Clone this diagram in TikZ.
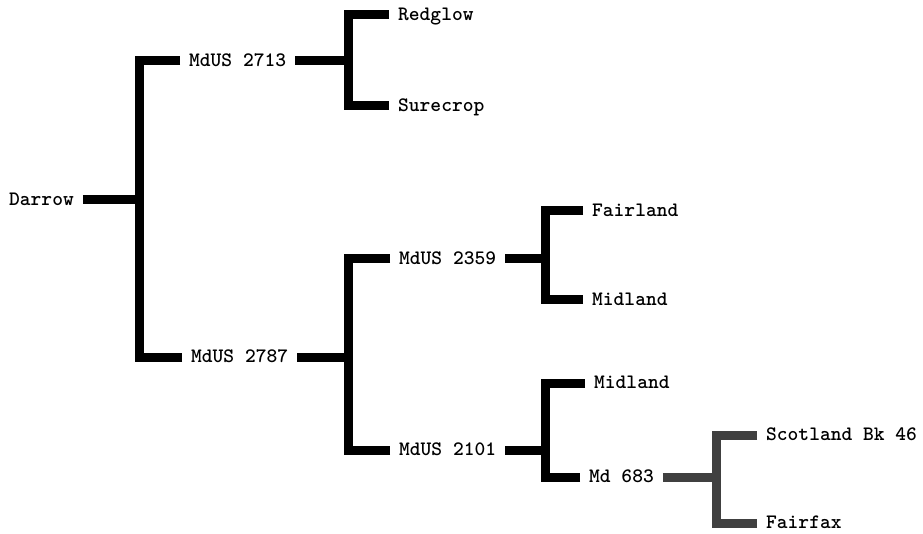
\documentclass[tikz,border=0pt]{standalone}
\usepackage{fontspec}
\usepackage{tikz}
\tikzset{bar/.style={line width=9pt}}

\begin{document}
\begin{tikzpicture}[x=1pt, y=-1pt, every node/.style={anchor=west, inner xsep=9pt, inner ysep=0pt, text height=11pt, text depth=0pt, font=\fontsize{20.5}{22}\selectfont\ttfamily\bfseries}]
	\useasboundingbox (0,0) rectangle (923,534);

	\node (1) at (0,200) {Darrow};
	\node (2) at (180,61) {MdUS 2713};
	\node (3) at (182,357) {MdUS 2787};
	\node (4) at (389,15) {Redglow};
	\node (5) at (389,106) {Surecrop};
	\node (6) at (390,259) {MdUS 2359};
	\node (7) at (390,450) {MdUS 2101};
	\node (8) at (583,211) {Fairland};
	\node (9) at (583,300) {Midland};
	\node (10) at (585,383) {Midland};
	\node (11) at (580,477) {Md 683};
	\node (12) at (757,435) {Scotland Bk 46};
	\node (13) at (757,523) {Fairfax};

	\coordinate (j1) at (139,200);
	\coordinate (j2) at (348,61);
	\coordinate (j3) at (348,357);
	\coordinate (j4) at (545,259);
	\coordinate (j5) at (545,450);
	\coordinate (j6) at (716,477);

	\foreach \p/\a/\b/\j in {1/2/3/j1, 2/4/5/j2, 3/6/7/j3, 6/8/9/j4, 7/10/11/j5}{
		\draw[bar] (\p.east) -- (\j);
		\draw[bar] (\a.west) -| (\j);
		\draw[bar] (\b.west) -| (\j);
	}
	\draw[bar, color=black!75] (11.east) -- (j6);
	\draw[bar, color=black!75] (12.west) -| (j6);
	\draw[bar, color=black!75] (13.west) -| (j6);
\end{tikzpicture}
\end{document}
